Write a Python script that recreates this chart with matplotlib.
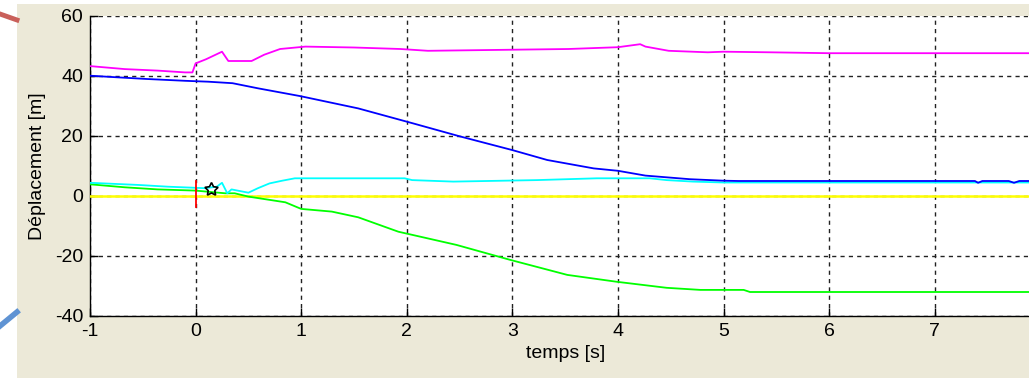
import matplotlib
matplotlib.use("Agg")
import matplotlib.pyplot as plt
from matplotlib.patches import Rectangle
from matplotlib.lines import Line2D

# ---- data ----
mag_x = [-1, -0.67, -0.36, -0.1, -0.03, 0.0, 0.1, 0.25, 0.31, 0.53, 0.65, 0.8, 1.04, 1.5, 1.94, 2.2, 3.53, 4.0, 4.21, 4.26, 4.48, 4.85, 5.0, 5.44, 6.0, 8]
mag_y = [43.2, 42.2, 41.7, 41.1, 41.1, 44.1, 45.5, 48.0, 44.9, 44.9, 47.0, 48.9, 49.7, 49.4, 48.9, 48.3, 48.9, 49.5, 50.5, 49.7, 48.3, 47.8, 48.0, 47.8, 47.5, 47.5]

blue_x = [-1, -0.76, -0.46, -0.1, 0.12, 0.35, 0.59, 0.99, 1.54, 2.06, 2.5, 3.0, 3.33, 3.77, 4.0, 4.26, 4.68, 5.0, 5.14, 7.38, 7.41, 7.45, 7.7, 7.75, 7.8, 8]
blue_y = [40, 39.5, 38.9, 38.3, 38.0, 37.5, 35.8, 33.2, 29.1, 24.1, 19.8, 15.2, 11.9, 9.1, 8.3, 6.7, 5.5, 5.0, 4.9, 4.9, 4.3, 4.9, 4.9, 4.3, 4.9, 4.9]

cyan_x = [-1, -0.55, -0.26, 0.09, 0.2, 0.25, 0.3, 0.34, 0.5, 0.59, 0.7, 0.82, 0.94, 1.98, 2.05, 2.44, 3.23, 3.8, 4.14, 4.3, 4.46, 4.71, 5.0, 8]
cyan_y = [4.3, 3.6, 3.0, 2.5, 3.0, 4.3, 0.8, 2.1, 1.0, 2.5, 4.1, 5.0, 5.8, 5.8, 5.2, 4.7, 5.2, 5.8, 5.8, 5.8, 5.2, 4.7, 4.4, 4.4]

green_x = [-1, -0.67, -0.36, 0.0, 0.28, 0.37, 0.5, 0.85, 1.0, 1.29, 1.54, 1.92, 2.47, 2.98, 3.52, 3.99, 4.46, 4.78, 5.19, 5.25, 8]
green_y = [3.8, 2.8, 2.1, 1.7, 0.8, 0.8, -0.3, -2.2, -4.4, -5.3, -7.2, -12, -16.4, -21.4, -26.4, -28.7, -30.7, -31.4, -31.4, -32.1, -32.1]

yellow_x = [-1, 8]
yellow_y = [0, 0]

red_x = [0, 0]
red_y = [-3.7, 5.0]

star_x = [0.15]
star_y = [2.2]

x_ticks = [-1, 0, 1, 2, 3, 4, 5, 6, 7]
y_ticks = [-40, -20, 0, 20, 40, 60]

# ---- figure ----
W, H = 1029, 378
fig = plt.figure(figsize=(W / 100, H / 100), dpi=100, facecolor="white")

# beige panel background
fig.patches.append(Rectangle((17 / W, 0), 1 - 17 / W, 1 - 4 / H, transform=fig.transFigure,
                             facecolor="#ECE9D8", edgecolor="none", zorder=-10))
# decorative strokes at the left edge
fig.lines.append(Line2D([0, 17 / W], [1 - 14 / H, 1 - 20 / H], transform=fig.transFigure,
                        color="#C9605A", lw=3.5, zorder=-5))
fig.lines.append(Line2D([0, 17 / W], [1 - 326 / H, 1 - 312 / H], transform=fig.transFigure,
                        color="#5F93D3", lw=4, zorder=-5))

left = 90 / W
right = 1040.4 / W
top = 1 - 15.7 / H
bottom = 1 - 315.7 / H
ax = fig.add_axes([left, bottom, right - left, top - bottom])
ax.set_zorder(5)
ax.set_facecolor("white")

lw = 1.3
ax.plot(yellow_x, yellow_y, color="#FFFF00", lw=1.8, zorder=3)
ax.plot(green_x, green_y, color="#00FF00", lw=lw, zorder=4)
ax.plot(cyan_x, cyan_y, color="#00FFFF", lw=lw, zorder=5)
ax.plot(blue_x, blue_y, color="#0000FF", lw=lw, zorder=6)
ax.plot(mag_x, mag_y, color="#FF00FF", lw=lw, zorder=6)
ax.plot(red_x, red_y, color="#FF0000", lw=lw, zorder=7)
ax.plot(star_x, star_y, linestyle="none", marker=(5, 1, 0), markersize=10,
        markerfacecolor="none", markeredgecolor="black", markeredgewidth=1.2, zorder=8)

ax.set_xlim(-1, 8)
ax.set_ylim(-40, 60)
ax.set_xticks(x_ticks)
ax.set_yticks(y_ticks)

font = "Liberation Sans"
ax.set_xticklabels([str(t) for t in x_ticks], fontsize=14, family=font)
ax.set_yticklabels([str(t) for t in y_ticks], fontsize=14, family=font)
ax.tick_params(direction="in", length=6, width=1, color="black", pad=5)

ax.grid(True, color="#222222", linestyle=(0, (3, 3)), lw=1.0)
ax.set_axisbelow(True)
for s in ["top", "right"]:
    ax.spines[s].set_visible(False)
for s in ["left", "bottom"]:
    ax.spines[s].set_color("black")
    ax.spines[s].set_linewidth(1.0)

ax.set_xlabel("temps [s]", fontsize=14, family=font, labelpad=4)
ax.set_ylabel("Déplacement [m]", fontsize=14, family=font, labelpad=6)

fig.savefig("out.png", dpi=100, facecolor=fig.get_facecolor())
